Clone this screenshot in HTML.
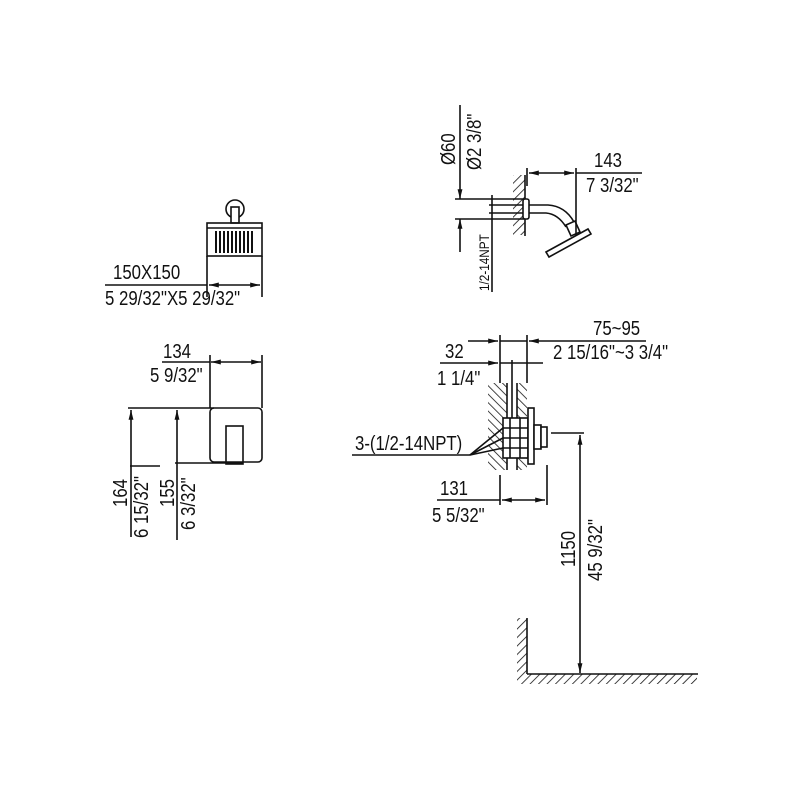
<!DOCTYPE html>
<html><head><meta charset="utf-8"><style>
html,body{margin:0;padding:0;background:#fff;}
svg{display:block}
text{font-family:"Liberation Sans",sans-serif;font-size:20px;fill:#111}
</style></head><body>
<svg width="800" height="800" viewBox="0 0 800 800" xmlns="http://www.w3.org/2000/svg">
<defs>
<marker id="a" viewBox="0 0 14 10" refX="14" refY="5" markerWidth="14" markerHeight="7" orient="auto-start-reverse" markerUnits="userSpaceOnUse"><path d="M0,1.5 L14,5 L0,8.5 Z" fill="#111"/></marker>
<pattern id="h" width="6" height="6" patternUnits="userSpaceOnUse" patternTransform="rotate(45)"><line x1="0" y1="0" x2="0" y2="6" stroke="#111" stroke-width="1.6"/></pattern>
<pattern id="h2" width="6" height="6" patternUnits="userSpaceOnUse" patternTransform="rotate(-45)"><line x1="0" y1="0" x2="0" y2="6" stroke="#111" stroke-width="1.6"/></pattern>
</defs>
<g stroke="#111" stroke-width="1.6" fill="none">
<!-- top-left shower head -->
<circle cx="235" cy="209" r="9"/>
<rect x="231" y="207" width="8" height="16" fill="#fff"/>
<rect x="207" y="223" width="55" height="33"/>
<line x1="207" y1="228" x2="262" y2="228"/>
<g stroke-width="2">
<line x1="216" y1="231" x2="216" y2="253"/><line x1="220" y1="231" x2="220" y2="253"/><line x1="224" y1="231" x2="224" y2="253"/><line x1="228" y1="231" x2="228" y2="253"/><line x1="232" y1="231" x2="232" y2="253"/><line x1="236" y1="231" x2="236" y2="253"/><line x1="240" y1="231" x2="240" y2="253"/><line x1="244" y1="231" x2="244" y2="253"/><line x1="248" y1="231" x2="248" y2="253"/><line x1="252" y1="231" x2="252" y2="253"/>
</g>
<line x1="207" y1="256" x2="207" y2="297"/><line x1="262" y1="256" x2="262" y2="297"/>
<line x1="105" y1="285" x2="207" y2="285"/>
<line x1="209" y1="285" x2="260" y2="285" marker-start="url(#a)" marker-end="url(#a)"/>

<!-- handle view -->
<line x1="162" y1="362" x2="210" y2="362"/>
<line x1="211" y1="362" x2="261" y2="362" marker-start="url(#a)" marker-end="url(#a)"/>
<line x1="210" y1="355" x2="210" y2="408"/><line x1="262" y1="355" x2="262" y2="408"/>
<line x1="128" y1="408" x2="214" y2="408"/>
<rect x="210" y="408" width="52" height="54" rx="4"/>
<rect x="226" y="426" width="17" height="38"/>
<line x1="175" y1="463" x2="243" y2="463"/>
<line x1="131" y1="410" x2="131" y2="466" marker-start="url(#a)"/>
<line x1="177" y1="410" x2="177" y2="462" marker-start="url(#a)"/>
<line x1="130" y1="466" x2="160" y2="466"/>
<line x1="131" y1="466" x2="131" y2="537"/><line x1="177" y1="462" x2="177" y2="540"/>

<!-- shower arm -->
<line x1="460" y1="105" x2="460" y2="199" marker-end="url(#a)"/>
<line x1="460" y1="219" x2="460" y2="252" marker-start="url(#a)"/>
<line x1="455" y1="199" x2="524" y2="199"/><line x1="455" y1="219" x2="524" y2="219"/>
<line x1="489" y1="205" x2="524" y2="205"/><line x1="489" y1="213" x2="524" y2="213"/>
<line x1="492" y1="195" x2="492" y2="292"/>
<rect x="513" y="175" width="12" height="60" fill="url(#h)" stroke="none"/>
<line x1="525" y1="175" x2="525" y2="236"/>
<rect x="523" y="199" width="6" height="20" rx="2" fill="#fff"/>
<path d="M529,205 L548,205 Q565,206 574,222"/>
<path d="M529,213 L546,213 Q558,214 566,227"/>
<path d="M566,225 L575,221 L580,232 L571,236 Z" fill="#fff"/>
<path d="M546,252 L588,229 L591,234 L549,257 Z" fill="#fff"/>
<line x1="527" y1="168" x2="527" y2="186"/>
<line x1="576" y1="168" x2="576" y2="236"/>
<line x1="529" y1="173" x2="574" y2="173" marker-start="url(#a)" marker-end="url(#a)"/>
<line x1="576" y1="173" x2="642" y2="173"/>

<!-- valve -->
<line x1="468" y1="341" x2="498" y2="341" marker-end="url(#a)"/>
<line x1="500" y1="341" x2="527" y2="341"/>
<line x1="646" y1="341" x2="529" y2="341" marker-end="url(#a)"/>
<line x1="440" y1="363" x2="498" y2="363" marker-end="url(#a)"/>
<line x1="500" y1="363" x2="543" y2="363"/>
<line x1="500" y1="335" x2="500" y2="383"/><line x1="527" y1="335" x2="527" y2="383"/>
<line x1="512" y1="360" x2="512" y2="420"/>
<rect x="488" y="383" width="19" height="87" fill="url(#h2)" stroke="none"/>
<rect x="517" y="383" width="10" height="87" fill="url(#h2)" stroke="none"/>
<line x1="507" y1="383" x2="507" y2="470"/><line x1="517" y1="383" x2="517" y2="470"/>
<rect x="503" y="418" width="25" height="40" fill="#fff"/>
<line x1="503" y1="428" x2="528" y2="428"/><line x1="503" y1="438" x2="528" y2="438"/><line x1="503" y1="448" x2="528" y2="448"/>
<line x1="510" y1="418" x2="510" y2="458"/><line x1="520" y1="418" x2="520" y2="458"/>
<rect x="528" y="408" width="6" height="56" fill="#fff"/>
<rect x="534" y="425" width="7" height="24" fill="#fff"/>
<rect x="541" y="427" width="6" height="20" fill="#fff"/>
<line x1="352" y1="455" x2="470" y2="455"/>
<line x1="470" y1="455" x2="503" y2="428"/><line x1="470" y1="455" x2="503" y2="438"/><line x1="470" y1="455" x2="503" y2="448"/>
<line x1="500" y1="475" x2="500" y2="505"/><line x1="547" y1="465" x2="547" y2="505"/>
<line x1="437" y1="500" x2="500" y2="500"/>
<line x1="502" y1="500" x2="545" y2="500" marker-start="url(#a)" marker-end="url(#a)"/>
<line x1="551" y1="433" x2="584" y2="433"/>
<line x1="580" y1="435" x2="580" y2="673" marker-start="url(#a)" marker-end="url(#a)"/>
<!-- floor -->
<rect x="517" y="618" width="10" height="56" fill="url(#h)" stroke="none"/>
<rect x="517" y="674" width="180" height="10" fill="url(#h)" stroke="none"/>
<line x1="527" y1="618" x2="527" y2="674"/><line x1="527" y1="674" x2="698" y2="674"/>
</g>
<text transform="translate(113,279) scale(0.84,1)">150X150</text>
<text transform="translate(105,305) scale(0.84,1)">5 29/32"X5 29/32"</text>
<text transform="translate(163,358) scale(0.84,1)">134</text>
<text transform="translate(150,382) scale(0.84,1)">5 9/32"</text>
<text transform="translate(127,507) rotate(-90) scale(0.84,1)">164</text>
<text transform="translate(148,538) rotate(-90) scale(0.84,1)">6 15/32"</text>
<text transform="translate(174,507) rotate(-90) scale(0.84,1)">155</text>
<text transform="translate(195,530) rotate(-90) scale(0.84,1)">6 3/32"</text>
<text transform="translate(455,165) rotate(-90) scale(0.84,1)">Ø60</text>
<text transform="translate(481,170) rotate(-90) scale(0.84,1)">Ø2 3/8"</text>
<text transform="translate(489,291) rotate(-90) scale(0.84,1)" style="font-size:14px">1/2-14NPT</text>
<text transform="translate(594,167) scale(0.84,1)">143</text>
<text transform="translate(586,192) scale(0.84,1)">7 3/32"</text>
<text transform="translate(593,335) scale(0.84,1)">75~95</text>
<text transform="translate(553,359) scale(0.84,1)">2 15/16"~3 3/4"</text>
<text transform="translate(445,358) scale(0.84,1)">32</text>
<text transform="translate(437,385) scale(0.84,1)">1 1/4"</text>
<text transform="translate(355,450) scale(0.84,1)">3-(1/2-14NPT)</text>
<text transform="translate(440,495) scale(0.84,1)">131</text>
<text transform="translate(432,522) scale(0.84,1)">5 5/32"</text>
<text transform="translate(575,567) rotate(-90) scale(0.84,1)">1150</text>
<text transform="translate(602,581) rotate(-90) scale(0.84,1)">45 9/32"</text>
</svg>
</body></html>
